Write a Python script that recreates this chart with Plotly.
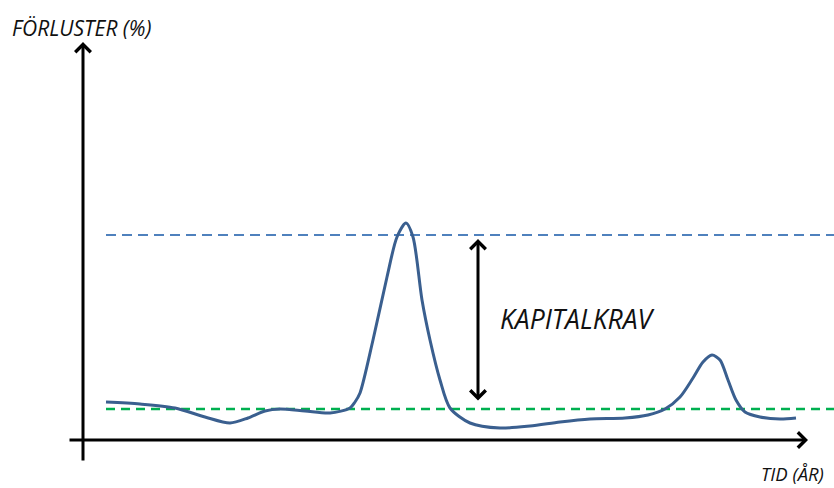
import plotly.graph_objects as go

# Schematic data: time (arbitrary units) and loss level (%)
time = [2.3, 5.7, 9.2, 12.2, 14.7, 16.5, 18.2, 19.7, 22.2, 24.7, 26.7, 27.2, 27.7,
        29.0, 30.4, 31.4, 32.3, 33.0, 33.9, 34.7, 35.7, 36.7, 38.7, 41.7, 44.7,
        47.7, 50.7, 54.2, 56.5, 58.2, 59.7, 61.0, 62.0, 62.9, 63.7, 64.5, 65.3,
        66.2, 67.7, 69.7, 71.3]
loss = [3.8, 3.6, 3.2, 2.3, 1.7, 2.2, 2.9, 3.1, 2.9, 2.7, 3.2, 3.8, 4.7,
        10.0, 16.3, 20.3, 21.7, 20.3, 14.0, 10.0, 6.0, 3.2, 1.7, 1.2, 1.4,
        1.8, 2.1, 2.2, 2.5, 3.1, 4.3, 6.2, 7.8, 8.5, 8.0, 6.0, 4.0,
        2.8, 2.3, 2.1, 2.2]

upper_level = 20.5      # blue dashed
lower_level = 3.1       # green dashed
line_start, line_end = 2.3, 80.0
capital_arrow_t = 39.5
capital_arrow_top, capital_arrow_bottom = 20.1, 3.8

x_range = [-8.3, 75.1]
y_range = [-4.8, 44.0]

fig = go.Figure()

fig.add_trace(go.Scatter(x=[line_start, line_end], y=[upper_level, upper_level],
                         mode="lines", line=dict(color="#4F81BD", width=2, dash="10px,6px"),
                         hoverinfo="skip"))
fig.add_trace(go.Scatter(x=[line_start, line_end], y=[lower_level, lower_level],
                         mode="lines", line=dict(color="#00B050", width=2.5, dash="9px,6px"),
                         hoverinfo="skip"))
fig.add_trace(go.Scatter(x=time, y=loss, mode="lines",
                         line=dict(color="#3A5F8F", width=3, shape="spline", smoothing=0.8),
                         hoverinfo="skip"))

annotations = [
    # y axis arrow
    dict(x=0, y=39.8, ax=0, ay=-2.2, xref="x", yref="y", axref="x", ayref="y",
         text="", showarrow=True, arrowhead=4, arrowsize=1, arrowwidth=3, arrowcolor="black"),
    # x axis arrow
    dict(x=72.5, y=0, ax=-1.5, ay=0, xref="x", yref="y", axref="x", ayref="y",
         text="", showarrow=True, arrowhead=4, arrowsize=1, arrowwidth=3, arrowcolor="black"),
    # capital requirement double arrow
    dict(x=capital_arrow_t, y=capital_arrow_top, ax=capital_arrow_t, ay=capital_arrow_bottom,
         xref="x", yref="y", axref="x", ayref="y", text="", showarrow=True,
         arrowhead=4, startarrowhead=4, arrowside="end+start", arrowsize=1, startarrowsize=1,
         arrowwidth=3, arrowcolor="black"),
    dict(x=-7.3, y=41.2, xref="x", yref="y", text="FÖRLUSTER (%)", showarrow=False,
         xanchor="left", yanchor="middle",
         font=dict(family="Open Sans", size=21, color="#111111", style="italic")),
    dict(x=41.5, y=12.1, xref="x", yref="y", text="KAPITALKRAV", showarrow=False,
         xanchor="left", yanchor="middle",
         font=dict(family="Open Sans", size=26.5, color="#111111", style="italic")),
    dict(x=67.6, y=-3.3, xref="x", yref="y", text="TID (ÅR)", showarrow=False,
         xanchor="left", yanchor="middle",
         font=dict(family="Open Sans", size=18.5, color="#111111", style="italic")),
]

fig.update_layout(
    width=834, height=488,
    margin=dict(l=0, r=0, t=0, b=0),
    paper_bgcolor="white", plot_bgcolor="white",
    showlegend=False,
    xaxis=dict(range=x_range, visible=False, fixedrange=True),
    yaxis=dict(range=y_range, visible=False, fixedrange=True),
    annotations=annotations,
)

fig.write_html("out.html", config={"displayModeBar": False},
               post_script="document.body.style.margin='0';document.body.style.overflow='hidden';")
